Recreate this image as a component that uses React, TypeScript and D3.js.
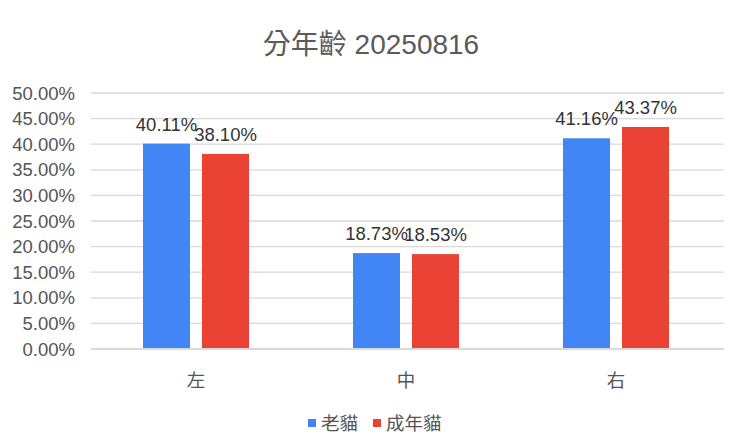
import { useEffect, useRef } from "react";
import * as d3 from "d3";

const categories = ["左", "中", "右"];
const seriesNames = ["老貓", "成年貓"];
const oldCat = [40.11, 18.73, 41.16];
const adultCat = [38.1, 18.53, 43.37];
const yTicks = [0, 5, 10, 15, 20, 25, 30, 35, 40, 45, 50];
const colors = ["#4285f4", "#ea4335"];

const FONT = "'Liberation Sans', Arial, 'Noto Sans CJK TC', sans-serif";

export default function App() {
  const ref = useRef<SVGSVGElement | null>(null);

  useEffect(() => {
    const width = 740;
    const height = 446;
    const margin = { top: 93, right: 19, bottom: 97, left: 91 };

    const svg = d3.select(ref.current);
    svg.selectAll("*").remove();

    svg.append("rect").attr("width", width).attr("height", height).attr("fill", "#fff");

    const x = d3
      .scaleBand<string>()
      .domain(categories)
      .range([margin.left, width - margin.right]);

    // inner band: two 47px bars with a 12px gap
    const x1 = d3
      .scaleBand<string>()
      .domain(seriesNames)
      .range([0, 106])
      .paddingInner(0.2034);

    const y = d3
      .scaleLinear()
      .domain([0, 50])
      .range([height - margin.bottom, margin.top]);

    // title
    svg
      .append("text")
      .attr("x", 371)
      .attr("y", 54)
      .attr("text-anchor", "middle")
      .attr("font-family", FONT)
      .attr("font-size", 28)
      .attr("fill", "#5a5a5a")
      .text("分年齡 20250816");

    // gridlines
    svg
      .append("g")
      .selectAll("line")
      .data(yTicks)
      .join("line")
      .attr("x1", margin.left)
      .attr("x2", width - margin.right + 3)
      .attr("y1", (d) => y(d))
      .attr("y2", (d) => y(d))
      .attr("stroke", "#d9d9d9")
      .attr("stroke-width", (d) => (d === 0 ? 2 : 1.3));

    // y tick labels
    svg
      .append("g")
      .selectAll("text")
      .data(yTicks)
      .join("text")
      .attr("x", 75)
      .attr("y", (d) => y(d))
      .attr("dy", "0.36em")
      .attr("text-anchor", "end")
      .attr("font-family", FONT)
      .attr("font-size", 18.5)
      .attr("fill", "#555")
      .text((d) => d.toFixed(2) + "%");

    const data = categories.map((c, i) => ({
      cat: c,
      values: [
        { name: seriesNames[0], v: oldCat[i] },
        { name: seriesNames[1], v: adultCat[i] },
      ],
    }));

    const groups = svg
      .append("g")
      .selectAll("g")
      .data(data)
      .join("g")
      .attr("transform", (d) => `translate(${(x(d.cat) as number) + x.bandwidth() / 2 - 53},0)`);

    groups
      .selectAll("rect")
      .data((d) => d.values)
      .join("rect")
      .attr("x", (d) => x1(d.name) as number)
      .attr("width", x1.bandwidth())
      .attr("y", (d) => y(d.v))
      .attr("height", (d) => y(0) - y(d.v) - 1)
      .attr("fill", (d, i) => colors[i]);

    groups
      .selectAll("text")
      .data((d) => d.values)
      .join("text")
      .attr("x", (d) => (x1(d.name) as number) + x1.bandwidth() / 2)
      .attr("y", (d) => y(d.v) - 13)
      .attr("text-anchor", "middle")
      .attr("font-family", FONT)
      .attr("font-size", 18.5)
      .attr("fill", "#333")
      .text((d) => d.v.toFixed(2) + "%");

    // category labels
    svg
      .append("g")
      .selectAll("text")
      .data(categories)
      .join("text")
      .attr("x", (d) => (x(d) as number) + x.bandwidth() / 2)
      .attr("y", 387)
      .attr("text-anchor", "middle")
      .attr("font-family", FONT)
      .attr("font-size", 18.5)
      .attr("fill", "#555")
      .text((d) => d);

    // legend
    const legend = svg.append("g");
    const legendItems = [
      { name: seriesNames[0], x: 308 },
      { name: seriesNames[1], x: 373 },
    ];
    legendItems.forEach((item, i) => {
      legend
        .append("rect")
        .attr("x", item.x)
        .attr("y", 419)
        .attr("width", 8)
        .attr("height", 8)
        .attr("fill", colors[i]);
      legend
        .append("text")
        .attr("x", item.x + 13)
        .attr("y", 430)
        .attr("font-family", FONT)
        .attr("font-size", 18.5)
        .attr("fill", "#555")
        .text(item.name);
    });
  }, []);

  return (
    <svg
      ref={ref}
      width={740}
      height={446}
      style={{ position: "absolute", left: 0, top: 0, display: "block" }}
    />
  );
}
